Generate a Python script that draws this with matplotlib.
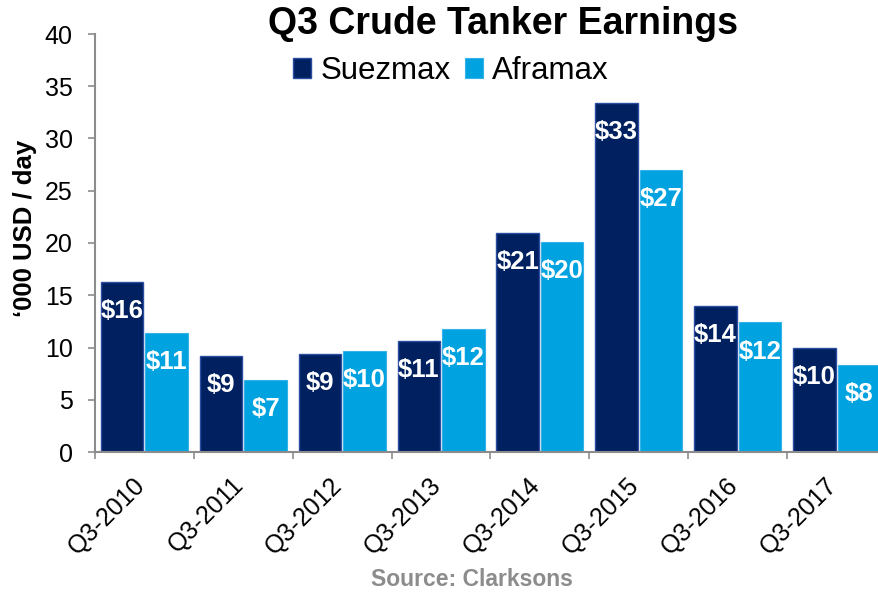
import matplotlib
matplotlib.use("Agg")
import matplotlib.pyplot as plt
import matplotlib.transforms as mtransforms
import numpy as np

plt.rcParams['font.family'] = ['Liberation Sans', 'DejaVu Sans']

categories = ["Q3-2010", "Q3-2011", "Q3-2012", "Q3-2013", "Q3-2014", "Q3-2015", "Q3-2016", "Q3-2017"]
suezmax = [16.3, 9.2, 9.35, 10.6, 21.0, 33.4, 14.0, 10.0]
aframax = [11.4, 6.9, 9.7, 11.8, 20.1, 27.0, 12.4, 8.3]
series_names = ["Suezmax", "Aframax"]
yticks = [0, 5, 10, 15, 20, 25, 30, 35, 40]

W, H = 879, 594
fig = plt.figure(figsize=(W / 100, H / 100), dpi=100)
ax = fig.add_axes([95 / W, 1 - 452 / H, (886 - 95) / W, (452 - 34) / H])

x = np.arange(len(categories))
bw = 0.43
c_suez = "#002060"
c_afra = "#00A3E0"
b1 = ax.bar(x - 0.225, suezmax, width=bw, color=c_suez, edgecolor="#2b4ea3", linewidth=1.0, label=series_names[0])
b2 = ax.bar(x + 0.225, aframax, width=bw, color=c_afra, edgecolor="#35b3e8", linewidth=0.8, label=series_names[1])

for bars, vals in ((b1, suezmax), (b2, aframax)):
    for rect, v in zip(bars, vals):
        ax.annotate(f"${v:.0f}", xy=(rect.get_x() + rect.get_width() / 2, v),
                    xytext=(0, -21), textcoords="offset points",
                    ha="center", va="center", color="white", fontsize=18.5, fontweight="bold")

ax.set_xlim(-0.5, len(categories) - 0.5)
ax.set_ylim(0, 40)
ax.set_yticks(yticks)
ax.set_yticklabels([str(t) for t in yticks], fontsize=18)
ax.tick_params(axis="y", length=5, width=1.2, color="#8c8c8c", pad=11)

ax.set_xticks(x)
ax.set_xticklabels(categories, rotation=45, ha="right", fontsize=18)
ax.set_xticks(np.arange(-0.5, len(categories), 1.0), minor=True)
ax.tick_params(axis="x", which="major", length=0, pad=15)
ax.tick_params(axis="x", which="minor", length=5, width=1.2, color="#8c8c8c")
offset = mtransforms.ScaledTranslation(5 / 100, 0, fig.dpi_scale_trans)
for lab in ax.get_xticklabels():
    lab.set_transform(lab.get_transform() + offset)

for s in ("top", "right"):
    ax.spines[s].set_visible(False)
for s in ("left", "bottom"):
    ax.spines[s].set_color("#8c8c8c")
    ax.spines[s].set_linewidth(1.5)

ax.set_ylabel("\u2018000 USD / day", fontsize=18.5, fontweight="bold")
ax.yaxis.set_label_coords(-(95 - 37) / (886 - 95), (452 - 228) / (452 - 34))

fig.text(503 / W, 1 - 34 / H, "Q3 Crude Tanker Earnings", ha="center", va="baseline",
         fontsize=27, fontweight="bold", color="black")

fig.legend(handles=[b1, b2], labels=series_names, loc="center", bbox_to_anchor=(451 / W, 1 - 71 / H),
           ncol=2, frameon=False, fontsize=22.5, handlelength=0.58, handleheight=0.58,
           handletextpad=0.3, columnspacing=0.45, borderpad=0, borderaxespad=0)

fig.text(472 / W, 1 - 580 / H, "Source: Clarksons", ha="center", va="center",
         fontsize=16.5, fontweight="bold", color="#8c8c8c")

fig.savefig("out.png", dpi=100)
